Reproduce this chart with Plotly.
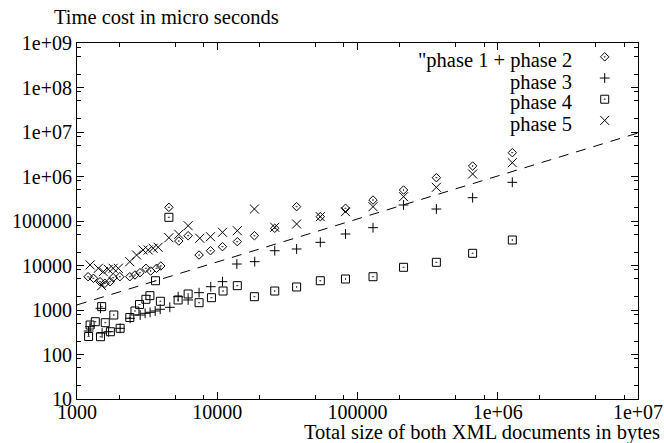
import plotly.graph_objects as go

# ---- data ----
P12_X = [1200, 1310, 1460, 1580, 1720, 1810, 2020, 2380, 2590, 2810, 3100, 3350, 3690, 3960, 4520, 5320,
         6200, 7420, 8950, 10900, 13900, 18400, 25700, 36800, 54300, 82100, 129000, 213000, 365000, 662000, 1270000]
P12_Y = [5600, 5160, 4330, 3980, 4330, 5320, 5600, 5600, 6120, 6890, 8650, 7520, 8650, 9750, 203000, 35500,
         46700, 17200, 21500, 26500, 34300, 46700, 68600, 210000, 125000, 193000, 296000, 497000, 940000, 1720000, 3430000]

P3_X = [1210, 1240, 1470, 1510, 1680, 2030, 2390, 2820, 3060, 3320, 3610, 3920, 4590, 5260, 6200, 7420,
        8990, 10900, 13800, 18500, 25700, 36800, 54300, 82100, 129000, 213000, 365000, 662000, 1270000]
P3_Y = [337, 421, 1090, 304, 325, 388, 651, 772, 843, 888, 950, 1040, 1150, 1990, 1680, 2450,
        3340, 4330, 10800, 12200, 21500, 23500, 33200, 51000, 70700, 229000, 186000, 334000, 741000]

P4_X = [1210, 1240, 1350, 1470, 1500, 1590, 1730, 1830, 2030, 2380, 2590, 2790, 3100, 3310, 3630, 3930, 4520,
        5260, 6200, 7420, 9090, 11000, 13900, 18400, 25700, 36800, 54300, 82100, 129000, 213000, 365000, 662000, 1270000]
P4_Y = [254, 460, 546, 251, 1190, 518, 325, 772, 388, 678, 950, 1330, 1740, 2100, 4550, 1570, 121000,
        1680, 2290, 1460, 1890, 2670, 3520, 1990, 2670, 3290, 4550, 4970, 5600, 9110, 11800, 18800, 37400]

P5_X = [1240, 1420, 1500, 1540, 1670, 1810, 1970, 2380, 2660, 2960, 3220, 3490, 3790, 4520, 5320, 6200,
        7510, 8950, 10900, 13900, 18400, 25700, 36800, 54300, 82100, 129000, 213000, 365000, 662000, 1270000]
P5_Y = [10300, 8650, 3520, 7260, 8210, 8650, 8650, 12200, 17200, 22300, 22300, 24400, 25700, 42100, 50200, 78400,
        40900, 44400, 55700, 60500, 186000, 72200, 85600, 125000, 162000, 210000, 352000, 572000, 1140000, 2040000]

FIT_X = [1000, 10000000]
FIT_Y = [1300, 9500000]

SERIES_NAMES = ['"phase 1 + phase 2', "phase 3", "phase 4", "phase 5"]

X_TICKS = [1000, 10000, 100000, 1000000, 10000000]
X_TICKTEXT = ["1000", "10000", "100000", "1e+06", "1e+07"]
Y_TICKS = [10, 100, 1000, 10000, 100000, 1000000, 10000000, 100000000, 1000000000]
Y_TICKTEXT = ["10", "100", "1000", "10000", "100000", "1e+06", "1e+07", "1e+08", "1e+09"]
MINOR_MULT = [2, 5, 8]

FONT = "Liberation Serif, Times New Roman, serif"

fig = go.Figure()

fig.add_trace(go.Scatter(x=FIT_X, y=FIT_Y, mode="lines",
                         line=dict(color="black", width=1, dash="10px,8px"),
                         showlegend=False, hoverinfo="skip"))

styles = [
    (P12_X, P12_Y, dict(symbol="diamond-open-dot", size=6.5, color="black", line=dict(width=1, color="black"))),
    (P3_X, P3_Y, dict(symbol="cross-thin-open", size=7, color="black", line=dict(width=1, color="black"))),
    (P4_X, P4_Y, dict(symbol="square-open-dot", size=8, color="black", line=dict(width=1, color="black"))),
    (P5_X, P5_Y, dict(symbol="x-thin-open", size=9, color="black", line=dict(width=1, color="black"))),
]
for (xs, ys, mk), nm in zip(styles, SERIES_NAMES):
    fig.add_trace(go.Scatter(x=xs, y=ys, mode="markers", marker=mk, name=" ", showlegend=True))

x_minor = [m * t for t in X_TICKS[:-1] for m in MINOR_MULT]
y_minor = [m * t for t in Y_TICKS[:-1] for m in MINOR_MULT]

axis_common = dict(type="log", showline=True, linecolor="black", linewidth=1, mirror="allticks",
                   ticks="inside", ticklen=7, tickcolor="black", tickwidth=1, showgrid=False,
                   zeroline=False, automargin=False,
                   tickfont=dict(family=FONT, size=20, color="black"))

fig.update_xaxes(range=[3, 7], tickmode="array", tickvals=X_TICKS, ticktext=X_TICKTEXT,
                 minor=dict(tickmode="array", tickvals=x_minor, ticks="inside", ticklen=4,
                            tickcolor="black", showgrid=False),
                 ticklabelstandoff=-5,
                 **axis_common)
fig.update_yaxes(range=[1, 9], tickmode="array", tickvals=Y_TICKS, ticktext=Y_TICKTEXT,
                 minor=dict(tickmode="array", tickvals=y_minor, ticks="inside", ticklen=4,
                            tickcolor="black", showgrid=False),
                 ticklabelstandoff=0,
                 **axis_common)

annotations = [
    dict(text="Time cost in micro seconds", x=-0.0446, y=1.073, xref="paper", yref="paper",
         xanchor="left", yanchor="middle", showarrow=False, font=dict(family=FONT, size=20.5, color="black")),
    dict(text="Total size of both XML documents in bytes", x=1.0428, y=-0.0955, xref="paper", yref="paper",
         xanchor="right", yanchor="middle", showarrow=False, font=dict(family=FONT, size=20.5, color="black")),
]
legend_rows_y = [0.9522, 0.8904, 0.8315, 0.7697]
for nm, yy in zip(SERIES_NAMES, legend_rows_y):
    annotations.append(dict(text=nm, x=0.886, y=yy, xref="paper", yref="paper", xanchor="right",
                            yanchor="middle", showarrow=False,
                            font=dict(family=FONT, size=20.5, color="black")))

fig.update_layout(
    width=664, height=443,
    margin=dict(l=77, r=26, t=43, b=44, autoexpand=False),
    paper_bgcolor="white", plot_bgcolor="white",
    font=dict(family=FONT, size=20, color="black"),
    annotations=annotations,
    legend=dict(x=0.905, y=1.005, xanchor="left", yanchor="top", bgcolor="rgba(0,0,0,0)",
                font=dict(family=FONT, size=14), tracegroupgap=0, itemwidth=30),
)

fig.write_html("out.html", config={"displayModeBar": False},
               post_script="document.body.style.margin='0';")
